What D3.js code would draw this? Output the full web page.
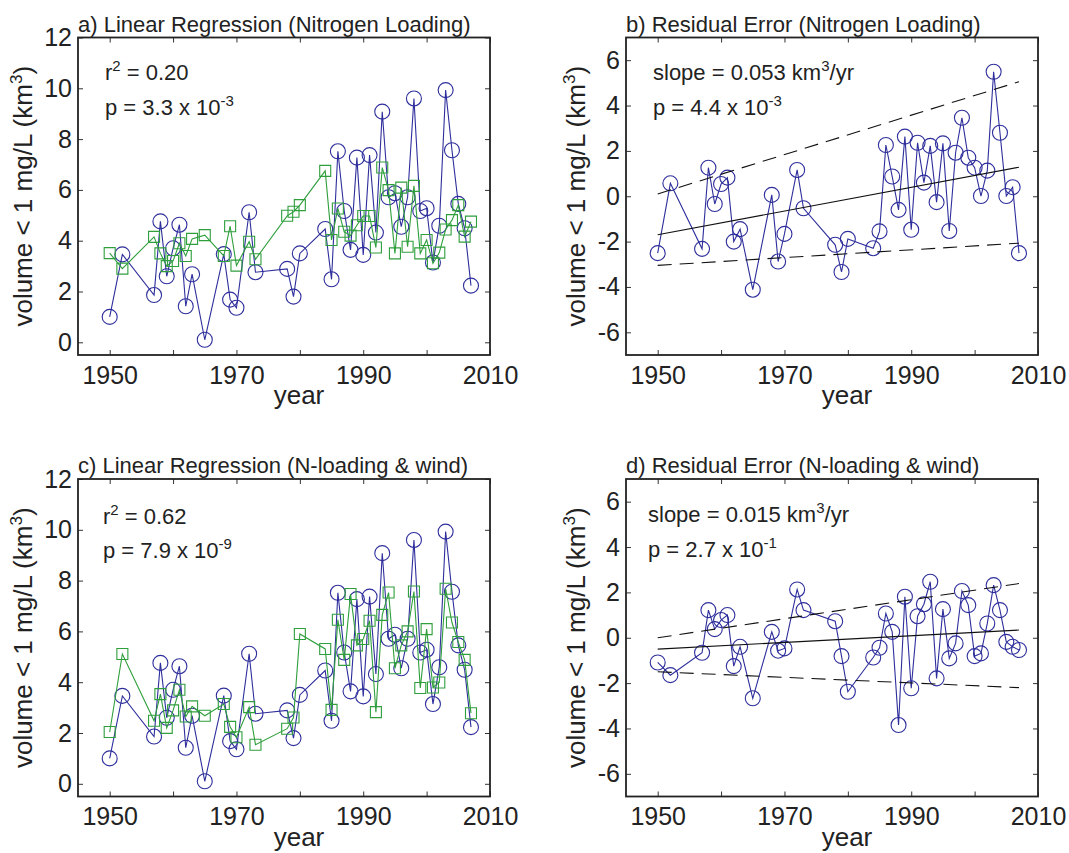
<!DOCTYPE html>
<html>
<head>
<meta charset="utf-8">
<script src="https://cdn.jsdelivr.net/npm/d3@7"></script>
<style>
body { margin: 0; background: #fff; }
svg text { font-family: "Liberation Sans", Arial, Helvetica, sans-serif; fill: #222; }
</style>
</head>
<body>
<svg width="1069" height="853"></svg>
<script>
// observed years and values
var years = [1950, 1952, 1957, 1958, 1959, 1960, 1961, 1962, 1963, 1965,
             1968, 1969, 1970, 1972, 1973, 1978, 1979, 1980,
             1984, 1985, 1986, 1987, 1988, 1989, 1990, 1991, 1992, 1993, 1994, 1995,
             1996, 1997, 1998, 1999, 2000, 2001, 2002, 2003, 2004, 2005, 2006, 2007];

var observed = [1.0, 3.46, 1.86, 4.76, 2.6, 3.7, 4.63, 1.42, 2.68, 0.1,
                3.47, 1.68, 1.36, 5.12, 2.76, 2.89, 1.8, 3.5,
                4.46, 2.48, 7.52, 5.17, 3.64, 7.27, 3.44, 7.37, 4.32, 9.08, 5.71, 5.87,
                4.55, 5.71, 9.6, 5.17, 5.28, 3.14, 4.59, 9.93, 7.56, 5.45, 4.49, 2.23];

// model from nitrogen loading
var predN = [3.51, 2.9, 4.15, 3.5, 3.0, 3.2, 3.9, 3.4, 4.07, 4.22,
             3.4, 4.57, 3.02, 3.96, 3.27, 4.98, 5.14, 5.4,
             6.75, 4.03, 5.27, 4.35, 4.2, 4.61, 4.97, 4.97, 3.73, 6.88, 5.99, 3.5,
             6.09, 3.76, 6.16, 3.5, 4.03, 3.11, 3.53, 4.44, 4.81, 5.4, 4.16, 4.75];

// model from N-loading & wind
var predNW = [2.04, 5.11, 2.48, 3.53, 2.2, 2.89, 3.7, 2.65, 3.05, 2.68,
              3.14, 2.24, 1.83, 3.02, 1.54, 2.17, 2.61, 5.9,
              5.31, 2.91, 6.46, 4.88, 7.47, 5.45, 5.7, 6.42, 2.82, 6.65, 7.53, 4.55,
              5.45, 6.0, 7.57, 3.77, 6.09, 3.79, 3.99, 7.68, 6.35, 5.58, 4.88, 2.78];

var residN = [-2.51, 0.57, -2.32, 1.26, -0.34, 0.54, 0.82, -2.0, -1.45, -4.12,
              0.06, -2.88, -1.66, 1.16, -0.53, -2.14, -3.34, -1.88,
              -2.29, -1.55, 2.26, 0.87, -0.6, 2.63, -1.48, 2.36, 0.6, 2.22, -0.26, 2.33,
              -1.53, 1.92, 3.46, 1.7, 1.26, 0.01, 1.13, 5.49, 2.8, 0.01, 0.4, -2.51];

var residNW = [-1.09, -1.65, -0.66, 1.22, 0.38, 0.78, 1.0, -1.25, -0.4, -2.67,
               0.26, -0.57, -0.47, 2.13, 1.22, 0.73, -0.81, -2.38,
               -0.87, -0.44, 1.07, 0.26, -3.85, 1.81, -2.23, 0.95, 1.48, 2.47, -1.79, 1.26,
               -0.91, -0.25, 2.06, 1.44, -0.81, -0.69, 0.63, 2.32, 1.22, -0.18, -0.4, -0.54];

// trend line end points (1950, 2007)
var trendYears = [1950, 2007];
var fitN = [-1.7, 1.28];
var upperN = [0.1, 5.05];
var lowerN = [-3.05, -2.07];
var fitNW = [-0.5, 0.34];
var upperNW = [0.0, 2.39];
var lowerNW = [-1.5, -2.2];

var yearTicks = [1950, 1960, 1970, 1980, 1990, 2000, 2010];
var yearLabels = [1950, 1970, 1990, 2010];
var volTicks = [0, 2, 4, 6, 8, 10, 12];
var residTicks = [-6, -4, -2, 0, 2, 4, 6];

var blue = "#2e2e9c", green = "#2f9f3c";

var svg = d3.select("svg");
var pw = 412, ph = 317.5;

var panels = [
  { left: 78, top: 37.5, yDomain: [-0.5, 12], yTicks: volTicks, ylabX: 32,
    title: "a) Linear Regression (Nitrogen Loading)",
    series: [{ y: observed, color: blue, mark: "circle" }, { y: predN, color: green, mark: "square" }],
    notes: [["r", "2", " = 0.20"], ["p = 3.3 x 10", "-3", ""]], noteX: 27, noteY: [42.5, 77.5] },
  { left: 626, top: 37.5, yDomain: [-7, 7], yTicks: residTicks, ylabX: 585,
    title: "b) Residual Error (Nitrogen Loading)",
    series: [{ y: residN, color: blue, mark: "circle" }],
    lines: [[fitN, null], [upperN, "14,8"], [lowerN, "14,8"]],
    notes: [["slope = 0.053 km", "3", "/yr"], ["p = 4.4 x 10", "-3", ""]], noteX: 27, noteY: [42.5, 77.5] },
  { left: 78, top: 479, yDomain: [-0.5, 12], yTicks: volTicks, ylabX: 32,
    title: "c) Linear Regression (N-loading & wind)",
    series: [{ y: observed, color: blue, mark: "circle" }, { y: predNW, color: green, mark: "square" }],
    notes: [["r", "2", " = 0.62"], ["p = 7.9 x 10", "-9", ""]], noteX: 25, noteY: [45, 79] },
  { left: 626, top: 479, yDomain: [-7, 7], yTicks: residTicks, ylabX: 585,
    title: "d) Residual Error (N-loading & wind)",
    series: [{ y: residNW, color: blue, mark: "circle" }],
    lines: [[fitNW, null], [upperNW, "14,8"], [lowerNW, "14,8"]],
    notes: [["slope = 0.015 km", "3", "/yr"], ["p = 2.7 x 10", "-1", ""]], noteX: 22, noteY: [42.7, 77.7] }
];

panels.forEach(function(p) {
  var x = d3.scaleLinear().domain([1945, 2010]).range([0, pw]);
  var y = d3.scaleLinear().domain(p.yDomain).range([ph, 0]);
  var g = svg.append("g").attr("transform", "translate(" + p.left + "," + p.top + ")");

  // axes, ticks pointing inward
  g.append("g").attr("transform", "translate(0," + ph + ")")
    .call(d3.axisBottom(x).tickValues(yearTicks).tickSize(-5).tickPadding(11)
      .tickFormat(function(d) { return yearLabels.indexOf(d) >= 0 ? d : ""; }));
  g.append("g").call(d3.axisTop(x).tickValues(yearTicks).tickSize(-5).tickFormat(""));
  g.append("g").call(d3.axisLeft(y).tickValues(p.yTicks).tickSize(-5).tickPadding(6)
      .tickFormat(function(d) { return d < 0 ? "-" + Math.abs(d) : d; }));
  g.append("g").attr("transform", "translate(" + pw + ",0)")
    .call(d3.axisRight(y).tickValues(p.yTicks).tickSize(-5).tickFormat(""));
  g.selectAll(".domain").remove();
  g.selectAll(".tick line").attr("stroke", "#333").attr("stroke-width", 1);
  g.selectAll(".tick text").attr("font-size", 25).style("fill", "#222");

  g.append("rect").attr("width", pw).attr("height", ph)
    .attr("fill", "none").attr("stroke", "#222").attr("stroke-width", 1.8);

  // series
  p.series.forEach(function(s) {
    var pts = years.map(function(yr, i) { return [x(yr), y(s.y[i])]; });
    g.append("path").attr("d", d3.line()(pts))
      .attr("fill", "none").attr("stroke", s.color).attr("stroke-width", 1.1);
    var sym = d3.symbol().type(s.mark === "circle" ? d3.symbolCircle : d3.symbolSquare)
      .size(s.mark === "circle" ? Math.PI * 7.5 * 7.5 : 121);
    g.selectAll(null).data(pts).enter().append("path")
      .attr("d", sym)
      .attr("transform", function(d) { return "translate(" + d[0] + "," + d[1] + ")"; })
      .attr("fill", "none").attr("stroke", s.color).attr("stroke-width", 1.1);
  });

  // regression line and bounds
  (p.lines || []).forEach(function(l) {
    var pts = trendYears.map(function(yr, i) { return [x(yr), y(l[0][i])]; });
    g.append("path").attr("d", d3.line()(pts))
      .attr("fill", "none").attr("stroke", "#111").attr("stroke-width", 1.1)
      .attr("stroke-dasharray", l[1]);
  });

  g.append("text").attr("x", 0).attr("y", -6).attr("font-size", 22).text(p.title);

  p.notes.forEach(function(n, i) {
    var t = g.append("text").attr("x", p.noteX).attr("y", p.noteY[i]).attr("font-size", 22);
    t.append("tspan").text(n[0]);
    t.append("tspan").attr("font-size", 15).attr("dy", -9).text(n[1]);
    t.append("tspan").attr("dy", 9).text(n[2]);
  });

  g.append("text").attr("x", pw / 2 + 15).attr("y", ph + 49).attr("text-anchor", "middle")
    .attr("font-size", 26).text("year");
  var yl = svg.append("text").attr("font-size", 26).attr("text-anchor", "middle")
    .attr("transform", "translate(" + p.ylabX + "," + (p.top + ph / 2) + ") rotate(-90)");
  yl.append("tspan").text("volume < 1 mg/L (km");
  yl.append("tspan").attr("font-size", 17).attr("dy", -10).text("3");
  yl.append("tspan").attr("dy", 10).text(")");
});
</script>
</body>
</html>
